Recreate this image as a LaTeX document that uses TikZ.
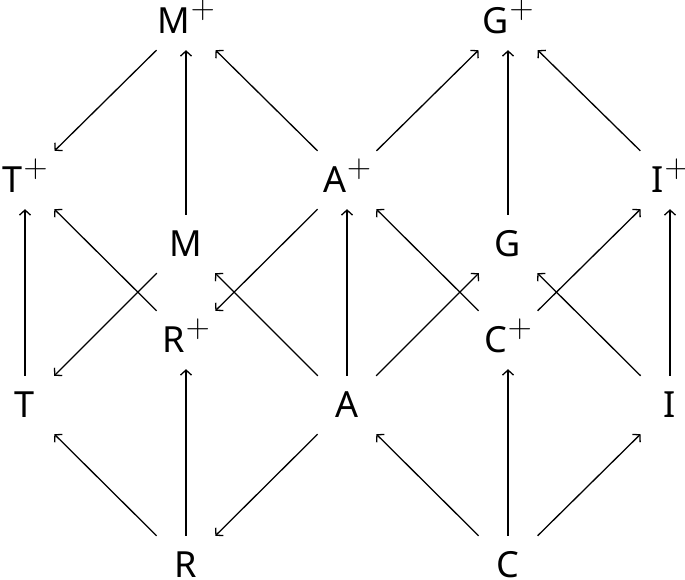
\documentclass[tikz,border=0pt]{standalone}
\usepackage{fontspec}
\usepackage{graphicx}
\setmainfont{Noto Sans}
\usetikzlibrary{arrows.meta}
\newcommand{\plussup}{\kern1pt\raisebox{15pt}[0pt][0pt]{\fontsize{20}{20}\selectfont\scalebox{1.6}{$\vcenter{\hbox{$+$}}$}}}
\begin{document}
\begin{tikzpicture}[x=1pt,y=-1pt,
  vx/.style={inner sep=0pt,minimum width=60pt,minimum height=58pt,font=\fontsize{36}{40}\selectfont},
  ar/.style={line width=1.3pt,-{Straight Barb[length=5pt,width=11pt,line width=1.3pt]}}]
\useasboundingbox (0,0) rectangle (685,580);
% nodes
\node[vx] (Mp) at (186,21) {M\plussup};
\node[vx] (Gp) at (508,21) {G\plussup};
\node[vx] (Tp) at (25,180) {T\plussup};
\node[vx] (Ap) at (347,180) {A\plussup};
\node[vx] (Ip) at (670,180) {I\plussup};
\node[vx] (M) at (186,244) {M};
\node[vx] (G) at (508,244) {G};
\node[vx] (Rp) at (186,340) {R\plussup};
\node[vx] (Cp) at (508,340) {C\plussup};
\node[vx] (T) at (25,405) {T};
\node[vx] (A) at (347,405) {A};
\node[vx] (I) at (670,405) {I};
\node[vx] (R) at (186,565) {R};
\node[vx] (C) at (508,565) {C};
% edges
\draw[ar] (Mp) -- (Tp);
\draw[ar] (M) -- (Mp);
\draw[ar] (Ap) -- (Mp);
\draw[ar] (Ap) -- (Gp);
\draw[ar] (G) -- (Gp);
\draw[ar] (Ip) -- (Gp);
\draw[ar] (T) -- (Tp);
\draw[ar] (Rp) -- (Tp);
\draw[ar] (M) -- (T);
\draw[ar] (Ap) -- (Rp);
\draw[ar] (A) -- (M);
\draw[ar] (A) -- (Ap);
\draw[ar] (Cp) -- (Ap);
\draw[ar] (A) -- (G);
\draw[ar] (Cp) -- (Ip);
\draw[ar] (I) -- (G);
\draw[ar] (I) -- (Ip);
\draw[ar] (R) -- (T);
\draw[ar] (R) -- (Rp);
\draw[ar] (A) -- (R);
\draw[ar] (C) -- (A);
\draw[ar] (C) -- (Cp);
\draw[ar] (C) -- (I);
\end{tikzpicture}
\end{document}
